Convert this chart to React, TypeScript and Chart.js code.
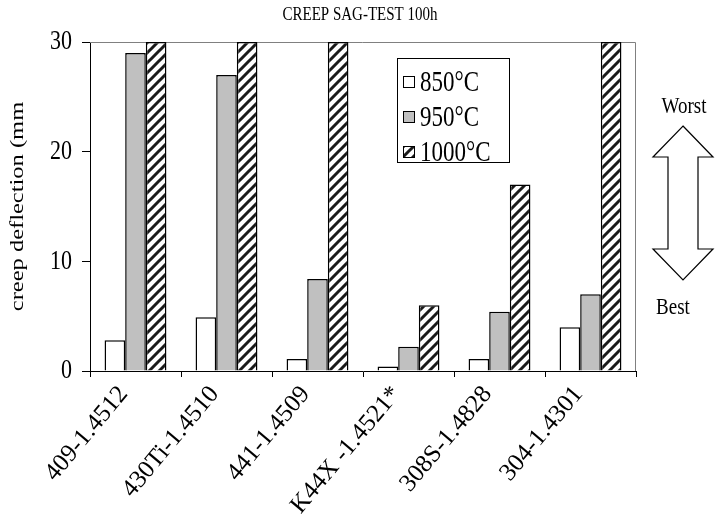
import React, { useEffect, useRef } from 'react';
import { Chart, registerables } from 'chart.js';

Chart.register(...registerables);

const categories = ['409-1.4512', '430Ti-1.4510', '441-1.4509', 'K44X -1.4521*', '308S-1.4828', '304-1.4301'];
const seriesLabels = ['850°C', '950°C', '1000°C'];
const values850 = [2.8, 4.9, 1.1, 0.4, 1.1, 4.0];
const values950 = [29, 27, 8.4, 2.2, 5.4, 7.0];
const values1000 = [30, 30, 30, 6, 17, 30];
const yTickValues = [0, 10, 20, 30];
const titleText = 'CREEP SAG-TEST 100h';
const yTitleText = 'creep deflection (mm';
const worstText = 'Worst';
const bestText = 'Best';

const FONT = "'Liberation Serif', 'Times New Roman', Times, serif";
const S = 1.25;

function makeHatch(ctx: CanvasRenderingContext2D) {
  const c = document.createElement('canvas');
  c.width = 10;
  c.height = 10;
  const g = c.getContext('2d')!;
  g.fillStyle = '#ffffff';
  g.fillRect(0, 0, 10, 10);
  g.strokeStyle = '#1a1a1a';
  g.lineWidth = 3;
  g.beginPath();
  g.moveTo(-3, 13); g.lineTo(13, -3);
  g.moveTo(-8, 8); g.lineTo(8, -8);
  g.moveTo(2, 18); g.lineTo(18, 2);
  g.stroke();
  return ctx.createPattern(c, 'repeat')!;
}

function drawText(
  ctx: CanvasRenderingContext2D, text: string, x: number, y: number, size: number,
  align: CanvasTextAlign, baseline: CanvasTextBaseline, angle = 0, sy = S,
) {
  ctx.save();
  ctx.translate(x, y);
  ctx.scale(1, sy);
  ctx.rotate(angle);
  ctx.font = `${size}px ${FONT}`;
  ctx.textAlign = align;
  ctx.textBaseline = baseline;
  ctx.fillStyle = '#000';
  ctx.fillText(text, 0, 0);
  ctx.restore();
}

export default function App() {
  const ref = useRef<HTMLCanvasElement | null>(null);

  useEffect(() => {
    document.body.style.margin = '0';
    const canvas = ref.current!;
    const ctx = canvas.getContext('2d')!;
    const hatch = makeHatch(ctx);
    const fills = ['#ffffff', '#c0c0c0', hatch];

    const framePlugin = {
      id: 'frame',
      beforeDatasetsDraw(chart: any) {
        const { ctx, chartArea: a } = chart;
        ctx.save();
        ctx.strokeStyle = '#808080';
        ctx.lineWidth = 1;
        ctx.beginPath();
        ctx.moveTo(a.left, a.top + 0.5);
        ctx.lineTo(a.right - 0.5, a.top + 0.5);
        ctx.lineTo(a.right - 0.5, a.bottom);
        ctx.stroke();
        ctx.restore();
      },
    };

    const decoPlugin = {
      id: 'deco',
      afterDraw(chart: any) {
        const { ctx, chartArea: a } = chart;
        const xs = chart.scales.x;
        const ys = chart.scales.y;
        ctx.save();
        // title
        drawText(ctx, titleText, (a.left + a.right) / 2 - 3, 15, 15, 'center', 'middle');

        // y tick labels
        yTickValues.forEach((v) => {
          drawText(ctx, String(v), a.left - 18, ys.getPixelForValue(v), 22, 'right', 'middle');
        });
        // y title (vertical, stretched along its length)
        drawText(ctx, yTitleText, 18, (a.top + a.bottom) / 2, 18, 'center', 'middle', -Math.PI / 2, 1.36);

        // x tick labels
        categories.forEach((c, i) => {
          const cx = xs.getPixelForValue(i);
          drawText(ctx, c, cx - 12, a.bottom + 19, 25, 'right', 'middle', -50 * Math.PI / 180, 1);
        });

        // legend
        const lx = a.left + 307, ly = a.top + 16, lw = 112, lh = 104;
        ctx.fillStyle = '#fff';
        ctx.fillRect(lx, ly, lw, lh);
        ctx.strokeStyle = '#000';
        ctx.lineWidth = 1;
        ctx.strokeRect(lx + 0.5, ly + 0.5, lw, lh);
        const rows = [ly + 24, ly + 59, ly + 94];
        for (let i = 0; i < seriesLabels.length; i++) {
          const y = rows[i];
          ctx.fillStyle = fills[i] as any;
          ctx.fillRect(lx + 6, y - 6, 12, 12);
          ctx.strokeStyle = '#000';
          ctx.lineWidth = 1;
          ctx.strokeRect(lx + 6.5, y - 5.5, 11, 11);
          drawText(ctx, seriesLabels[i], lx + 23, y + 1, 23, 'left', 'middle');
        }

        // arrow
        const cx = 683;
        const pts = [
          [cx, 126], [cx + 30, 157], [cx + 15, 157], [cx + 15, 249], [cx + 30, 249],
          [cx, 280], [cx - 30, 249], [cx - 15, 249], [cx - 15, 157], [cx - 30, 157],
        ];
        ctx.beginPath();
        pts.forEach((p, i) => (i ? ctx.lineTo(p[0], p[1]) : ctx.moveTo(p[0], p[1])));
        ctx.closePath();
        ctx.fillStyle = '#fff';
        ctx.fill();
        ctx.strokeStyle = '#000';
        ctx.lineWidth = 1.2;
        ctx.stroke();
        drawText(ctx, worstText, 684, 107, 19, 'center', 'middle');
        drawText(ctx, bestText, 673, 308, 19, 'center', 'middle');
        ctx.restore();
      },
    };

    const chart = new Chart(canvas, {
      type: 'bar',
      data: {
        labels: categories,
        datasets: [values850, values950, values1000].map((vals, i) => ({
          label: seriesLabels[i],
          data: vals,
          backgroundColor: fills[i] as any,
          borderColor: '#000',
          borderWidth: 1.5,
          categoryPercentage: 0.68,
          barPercentage: 1,
        })),
      },
      options: {
        animation: false,
        responsive: false,
        maintainAspectRatio: false,
        layout: { padding: { top: 42, right: 86, left: 0, bottom: 0 } },
        plugins: {
          legend: { display: false },
          title: { display: false },
          tooltip: { enabled: false },
        },
        scales: {
          x: {
            afterFit(scale: any) { scale.height = 156; },
            grid: { offset: true, drawOnChartArea: false, drawTicks: true, tickLength: 6, color: '#000', tickColor: '#000' },
            border: { color: '#000', width: 1 },
            ticks: { display: false, autoSkip: false },
          },
          y: {
            min: 0,
            max: 30,
            afterFit(scale: any) { scale.width = 90; },
            afterBuildTicks(scale: any) { scale.ticks = yTickValues.map((v) => ({ value: v })); },
            grid: { drawOnChartArea: false, drawTicks: true, tickLength: 8, color: '#000', tickColor: '#000' },
            border: { color: '#000', width: 1 },
            ticks: { display: false },
            title: { display: false },
          },
        },
      },
      plugins: [framePlugin, decoPlugin],
    });
    return () => chart.destroy();
  }, []);

  return (
    <div style={{ width: 722, height: 527 }}>
      <canvas ref={ref} width={722} height={527} style={{ display: 'block', width: 722, height: 527 }} />
    </div>
  );
}
